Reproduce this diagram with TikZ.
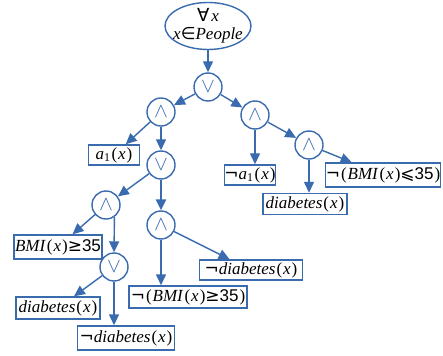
\documentclass[tikz,border=0pt]{standalone}
\usepackage{fontspec}
\setmainfont{Liberation Serif}
\newfontfamily\symf{DejaVu Sans}
\newfontfamily\numf{Liberation Sans}
\usetikzlibrary{arrows.meta,shapes.geometric}
\definecolor{tblue}{HTML}{3A6BAF}
\newcommand\vx{\textit{x}}
\newcommand\pv[1]{\kern1pt(\kern1pt#1\kern1pt)}
\newcommand\negs{{\symf\char"00AC}}
\tikzset{
  opnode/.style={circle,draw=tblue,line width=1.4pt,minimum size=28pt,inner sep=0pt,text=tblue,font=\fontsize{22}{22}\selectfont},
  leaf/.style={rectangle,draw=tblue,line width=1.4pt,inner sep=0pt,font=\fontsize{17}{17}\selectfont},
  arr/.style={draw=tblue,line width=1.4pt,-{Triangle[length=11pt,width=10pt]}},
  thickarr/.style={draw=tblue,line width=2.6pt,-{Triangle[length=11pt,width=10pt]}}
}
\begin{document}
\begin{tikzpicture}[x=1pt,y=-1pt]
\useasboundingbox (0,0) rectangle (443,355);
\node[ellipse,draw=tblue,line width=1.4pt,minimum width=86pt,minimum height=47pt,inner xsep=-7pt,inner ysep=-4pt,align=center,font=\fontsize{17}{18}\selectfont] (root) at (208,26) {{\symf\fontsize{18}{18}\selectfont ∀}\kern2pt\vx\\ \vx{\symf ∈}\textit{People}};
\node[opnode] (or1) at (208,87) {$\vee$};
\node[opnode] (andL) at (161,112) {$\wedge$};
\node[opnode] (andR) at (255,115) {$\wedge$};
\node[opnode] (or2) at (161,165) {$\vee$};
\node[opnode] (andRR) at (309,145) {$\wedge$};
\node[opnode] (and3) at (106,205) {$\wedge$};
\node[opnode] (andM) at (161,225) {$\wedge$};
\node[opnode] (or3) at (114,267) {$\vee$};

\node[leaf,minimum width=51pt,minimum height=20pt] (a1) at (114,155) {\textit{a}\textsubscript{1}\pv{\vx}};
\node[leaf,minimum width=50pt,minimum height=20pt] (na1) at (250,175) {\negs\textit{a}\textsubscript{1}\pv{\vx}};
\node[leaf,minimum width=112pt,minimum height=24pt] (nbmi35) at (383,175) {\negs\pv{\textit{BMI}\pv{\vx}{\symf ⩽}{\numf 35}}};
\node[leaf,minimum width=84pt,minimum height=21pt] (diabR) at (305,204) {\textit{diabetes}\pv{\vx}};
\node[leaf,minimum width=88pt,minimum height=24pt] (bmi) at (58,247) {\textit{BMI}\pv{\vx}{\symf ≥}{\numf 35}};
\node[leaf,minimum width=103pt,minimum height=20pt] (ndiabR) at (251,270) {\negs\textit{diabetes}\pv{\vx}};
\node[leaf,minimum width=118pt,minimum height=22pt] (nbmi) at (188,297) {\negs\pv{\textit{BMI}\pv{\vx}{\symf ≥}{\numf 35}}};
\node[leaf,minimum width=84pt,minimum height=22pt] (diabL) at (58,308) {\textit{diabetes}\pv{\vx}};
\node[leaf,minimum width=97pt,minimum height=24pt] (ndiabL) at (126,338) {\negs\textit{diabetes}\pv{\vx}};

\draw[arr] (root) -- (or1);
\draw[arr] (or1) -- (andL);
\draw[arr] (or1) -- (andR);
\draw[arr] (andL) -- (a1);
\draw[arr] (andL) -- (or2);
\draw[arr] (or2) -- (and3);
\draw[thickarr] (or2) -- (andM);
\draw[arr] (and3) -- (bmi);
\draw[arr] (and3.-55) -- (or3.north);
\draw[arr] (or3) -- (diabL);
\draw[arr] (or3.south) -- (or3.south |- ndiabL.north);
\draw[arr] (andM.south) -- (andM.south |- nbmi.north);
\draw[arr] (andM) -- (ndiabR);
\draw[arr] (andR.south) -- (andR.south |- na1.north);
\draw[arr] (andR) -- (andRR);
\draw[arr] (andRR.south) -- (andRR.south |- diabR.north);
\draw[arr] (andRR) -- (nbmi35);
\end{tikzpicture}
\end{document}
